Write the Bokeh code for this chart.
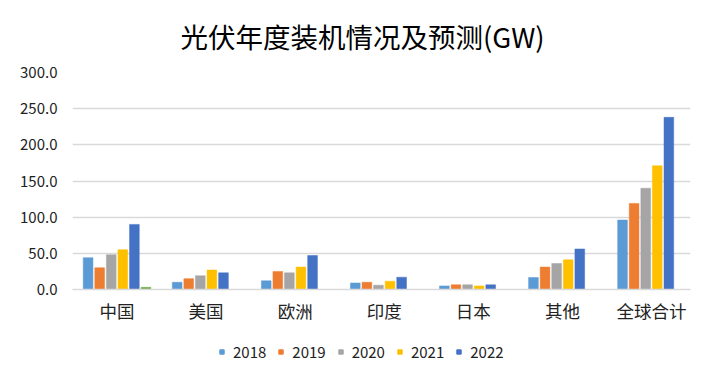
from bokeh.plotting import figure
from bokeh.layouts import column
from bokeh.models import Range1d, Legend, LegendItem, NumeralTickFormatter, FixedTicker, ColumnDataSource
from bokeh.transform import dodge
from bokeh.embed import file_html
from bokeh.resources import INLINE

categories = ["中国", "美国", "欧洲", "印度", "日本", "其他", "全球合计"]
years = ["2018", "2019", "2020", "2021", "2022"]
v2018 = [44, 10, 12, 9, 5, 16.6, 96]
v2019 = [30, 15, 25, 10, 6.5, 31, 119]
v2020 = [48, 19, 23, 6, 6.5, 36, 140]
v2021 = [55, 27, 31, 11.5, 5, 41, 171]
v2022 = [90, 23, 47, 17, 6.5, 56, 238]
extra_idx = [0]          # 中国 only
extra_val = [3]
colors = ["#5B9BD5", "#ED7D31", "#A5A5A5", "#FFC000", "#4472C4"]
extra_color = "#70AD47"
y_ticks = [0, 50, 100, 150, 200, 250, 300]

FONT = "Noto Sans CJK SC"

pos = [i + 0.5 for i in range(len(categories))]

p = figure(frame_width=618, frame_height=217, x_range=Range1d(0, 6.938),
           y_range=Range1d(0, 300), output_backend="svg", toolbar_location=None,
           min_border_left=72, min_border_right=8, min_border_top=72, min_border_bottom=40)

p.title.text = "光伏年度装机情况及预测(GW)"
p.title.align = "left"
p.title.offset = 108
p.title.vertical_align = "top"
p.title.text_font = FONT
p.title.text_font_size = "27.5px"
p.title.text_font_style = "normal"
p.title.text_color = "#000000"
p.title.standoff = 29

src = ColumnDataSource(dict(x=pos, y2018=v2018, y2019=v2019, y2020=v2020, y2021=v2021, y2022=v2022))
slot = 0.13
bw = 0.109
for i, (yr, col) in enumerate(zip(years, colors)):
    p.vbar(x=dodge("x", (i - 2.5) * slot), top="y" + yr, width=bw,
           source=src, fill_color=col, line_color=col, line_width=0.5)

esrc = ColumnDataSource(dict(x=[pos[k] for k in extra_idx], v=extra_val))
p.vbar(x=dodge("x", 2.5 * slot), top="v", width=bw, source=esrc,
       fill_color=extra_color, line_color=extra_color, line_width=0.5)

p.outline_line_color = None
p.xgrid.grid_line_color = None
p.ygrid.grid_line_color = "#D9D9D9"
p.ygrid.grid_line_width = 1.3
p.yaxis.ticker = FixedTicker(ticks=y_ticks)
p.yaxis.formatter = NumeralTickFormatter(format="0.0")
p.yaxis.axis_line_color = None
p.yaxis.major_tick_line_color = None
p.yaxis.minor_tick_line_color = None
p.yaxis.major_label_text_font = FONT
p.yaxis.major_label_text_font_size = "15px"
p.yaxis.major_label_text_color = "#222222"
p.yaxis.major_label_standoff = 9

p.xaxis.ticker = FixedTicker(ticks=pos)
p.xaxis.major_label_overrides = {x: c for x, c in zip(pos, categories)}
p.xaxis.axis_line_color = "#D9D9D9"
p.xaxis.axis_line_width = 1.3
p.xaxis.major_tick_line_color = None
p.xaxis.minor_tick_line_color = None
p.xaxis.major_label_text_font = FONT
p.xaxis.major_label_text_font_size = "17.5px"
p.xaxis.major_label_text_color = "#222222"
p.xaxis.major_label_standoff = 2

# legend strip: a second figure whose renderers sit outside its visible range
pl = figure(width=698, height=40, x_range=Range1d(-100, -99), y_range=Range1d(-100, -99),
            output_backend="svg", toolbar_location=None, min_border=0,
            x_axis_type=None, y_axis_type=None)
pl.outline_line_color = None
pl.xgrid.grid_line_color = None
pl.ygrid.grid_line_color = None
items = []
for yr, col in zip(years, colors):
    r = pl.scatter(x="x", y="y" + yr, marker="square", size=11, source=src,
                   fill_color=col, line_color=col)
    items.append(LegendItem(label=yr, renderers=[r]))
legend = Legend(items=items, orientation="horizontal", location=(144, 7),
                glyph_width=11, glyph_height=11, label_standoff=6, spacing=9,
                label_text_font=FONT, label_text_font_size="15px", label_text_color="#222222",
                border_line_color=None, background_fill_alpha=0, padding=0, margin=0)
pl.add_layout(legend, "center")

layout = column(p, pl, spacing=0)
open("out.html", "w").write(file_html(layout, INLINE))
